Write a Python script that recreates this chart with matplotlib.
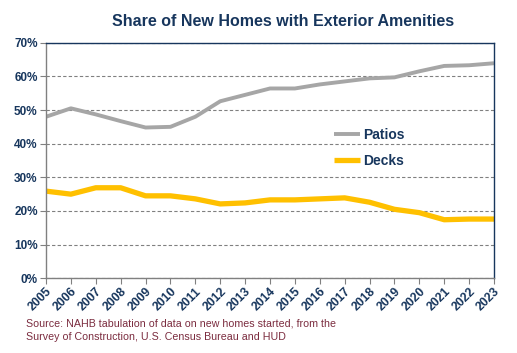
import matplotlib
matplotlib.use("Agg")
import matplotlib.pyplot as plt
from matplotlib.ticker import PercentFormatter

years = list(range(2005, 2024))
patios = [48.0, 50.5, 48.7, 46.7, 44.8, 45.0, 48.0, 52.6, 54.5, 56.4, 56.4, 57.6, 58.5, 59.4, 59.7, 61.5, 63.1, 63.3, 63.9]
decks = [25.9, 25.0, 26.9, 26.9, 24.5, 24.5, 23.6, 22.1, 22.4, 23.3, 23.3, 23.6, 23.9, 22.6, 20.5, 19.5, 17.4, 17.6, 17.6]
yticks = [0, 10, 20, 30, 40, 50, 60, 70]

navy = "#17365D"
plt.rcParams['font.family'] = ['Liberation Sans', 'DejaVu Sans']

fig = plt.figure(figsize=(5.17, 3.53), dpi=100)
ax = fig.add_axes([46/517, 1-278.3/353, 448/517, 235.6/353])

ax.plot(years, patios, color="#A6A6A6", lw=2.8, label="Patios", solid_capstyle='butt')
ax.plot(years, decks, color="#FFC000", lw=3.8, label="Decks", solid_capstyle='butt')

ax.set_xlim(2005, 2023)
ax.set_ylim(0, 70)
ax.set_yticks(yticks)
ax.yaxis.set_major_formatter(PercentFormatter(decimals=0))
ax.set_xticks(years)
ax.set_xticklabels([str(y) for y in years], rotation=45, ha='right', rotation_mode='anchor',
                   fontsize=8.8, fontweight='bold', color=navy)
for lbl in ax.get_yticklabels():
    lbl.set_fontsize(8.5)
    lbl.set_fontweight('bold')
    lbl.set_color(navy)

ax.grid(axis='y', color="#808080", ls=(0, (3, 2)), lw=0.8)
ax.set_axisbelow(True)
ax.tick_params(axis='both', length=4, color="#808080", width=0.8, pad=2)
ax.tick_params(axis='x', pad=1)
ax.spines['left'].set_color("#808080")
ax.spines['bottom'].set_color("#808080")
ax.spines['top'].set_color(navy)
ax.spines['right'].set_color(navy)
for s in ax.spines.values():
    s.set_linewidth(1.0)

leg = ax.legend(loc='upper left', bbox_to_anchor=(0.615, 0.69), frameon=False,
                handlelength=1.9, handletextpad=0.2, labelspacing=0.85,
                prop={'weight': 'bold', 'size': 10})
for t in leg.get_texts():
    t.set_color(navy)

fig.text(0.5 + 25/517, 1-21/353, "Share of New Homes with Exterior Amenities", ha='center', va='center',
         fontsize=11.5, fontweight='bold', color=navy)
fig.text(26/517, 1-323/353, "Source: NAHB tabulation of data on new homes started, from the",
         fontsize=7.7, color="#7B2C3F", va='center')
fig.text(26/517, 1-336.5/353, "Survey of Construction, U.S. Census Bureau and HUD",
         fontsize=7.7, color="#7B2C3F", va='center')

fig.savefig("out.png", dpi=100)
